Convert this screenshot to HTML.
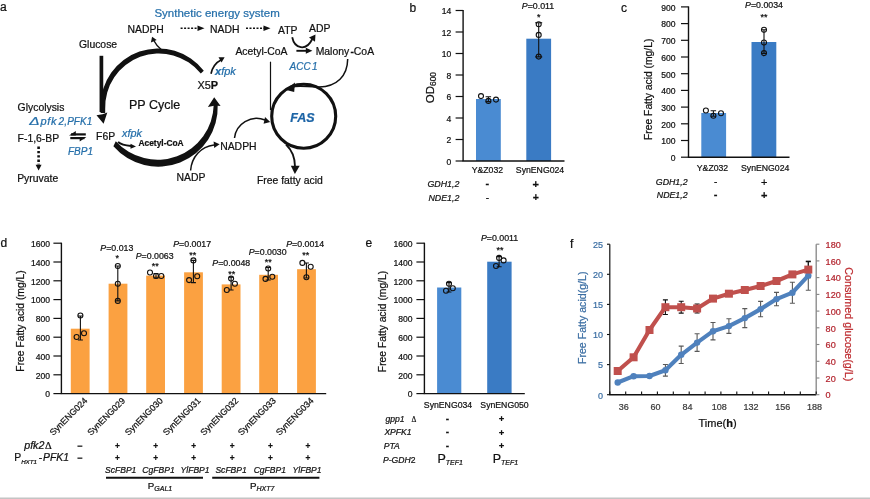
<!DOCTYPE html>
<html lang="en"><head><meta charset="utf-8"><title>Figure</title>
<style>
html,body{margin:0;padding:0;background:#fff;}
body{width:870px;height:499px;overflow:hidden;}
svg{display:block;will-change:transform;font-family:"Liberation Sans",Arial,sans-serif;}
</style></head><body>
<svg width="870" height="499" viewBox="0 0 870 499">
<rect width="870" height="499" fill="#fff"/>
<defs>
<marker id="ah" viewBox="0 0 10 10" refX="7" refY="5" markerWidth="5" markerHeight="5" orient="auto-start-reverse"><path d="M0 0L10 5L0 10z" fill="#111"/></marker>
</defs>

<text x="0" y="11.3" font-size="12" fill="#111" stroke="#111" stroke-width="0.22">a</text>
<text x="409.5" y="11.5" font-size="12" fill="#111" stroke="#111" stroke-width="0.22">b</text>
<text x="621" y="11.5" font-size="12" fill="#111" stroke="#111" stroke-width="0.22">c</text>
<text x="0.5" y="246.5" font-size="12" fill="#111" stroke="#111" stroke-width="0.22">d</text>
<text x="365.5" y="246.5" font-size="12" fill="#111" stroke="#111" stroke-width="0.22">e</text>
<text x="570" y="248" font-size="12" fill="#111" stroke="#111" stroke-width="0.22">f</text>
<g id="pa">
<text x="217.1" y="16.8" font-size="11.5" text-anchor="middle" fill="#256faa" stroke="#256faa" stroke-width="0.22">Synthetic energy system</text>
<text x="127.5" y="33" font-size="10.4" fill="#111" stroke="#111" stroke-width="0.22">NADPH</text>
<text x="210" y="33" font-size="10.4" fill="#111" stroke="#111" stroke-width="0.22">NADH</text>
<text x="278" y="33.7" font-size="10.4" fill="#111" stroke="#111" stroke-width="0.22">ATP</text>
<text x="309" y="32.2" font-size="10.4" fill="#111" stroke="#111" stroke-width="0.22">ADP</text>
<text x="79" y="48" font-size="10.4" fill="#111" stroke="#111" stroke-width="0.22">Glucose</text>
<text x="235.4" y="54.5" font-size="10.4" fill="#111" stroke="#111" stroke-width="0.22">Acetyl-CoA</text>
<text x="315.7" y="54.5" font-size="10.4" fill="#111" stroke="#111" stroke-width="0.22">Malony<tspan dx="1.2" font-weight="bold">-</tspan>CoA</text>
<text x="289.6" y="69.6" font-size="10" font-style="italic" fill="#256faa" stroke="#256faa" stroke-width="0.22">ACC<tspan dx="1.2">1</tspan></text>
<text x="215" y="74.6" font-size="11" font-style="italic" fill="#256faa" stroke="#256faa" stroke-width="0.22"><tspan font-weight="bold">x</tspan>fpk</text>
<text x="197.4" y="89.4" font-size="10.9" fill="#111" stroke="#111" stroke-width="0.22">X5<tspan font-weight="bold">P</tspan></text>
<text x="129" y="109" font-size="12.5" fill="#111" stroke="#111" stroke-width="0.22">PP Cycle</text>
<text x="17.6" y="111" font-size="10.4" fill="#111" stroke="#111" stroke-width="0.22">Glycolysis</text>
<text transform="translate(29.3 124.5) scale(1.5 1)" font-size="10.3" font-style="italic" fill="#256faa" stroke="#256faa" stroke-width="0.2">&#916;</text>
<text x="40.4" y="124.5" font-size="11" font-style="italic" fill="#256faa" stroke="#256faa" stroke-width="0.22"><tspan letter-spacing="0.7">pfk</tspan><tspan x="58.6" font-size="10">2,</tspan><tspan x="67.2" font-size="10">PFK1</tspan></text>
<text x="17.6" y="142.3" font-size="10.4" fill="#111" stroke="#111" stroke-width="0.22">F-1,6-BP</text>
<text x="96.1" y="140.2" font-size="10.4" fill="#111" stroke="#111" stroke-width="0.22">F6P</text>
<text x="122" y="136.8" font-size="10.8" font-style="italic" fill="#256faa" stroke="#256faa" stroke-width="0.22">xfpk</text>
<text x="138.5" y="145.8" font-size="8.4" font-weight="bold" fill="#111" stroke="#111" stroke-width="0.22">Acetyl-CoA</text>
<text x="68" y="154.7" font-size="10" font-style="italic" fill="#256faa" stroke="#256faa" stroke-width="0.22">FBP1</text>
<text x="17.2" y="181.8" font-size="10.4" fill="#111" stroke="#111" stroke-width="0.22">Pyruvate</text>
<text x="176.6" y="181" font-size="10.4" fill="#111" stroke="#111" stroke-width="0.22">NADP</text>
<text x="220.2" y="150" font-size="10.4" fill="#111" stroke="#111" stroke-width="0.22">NADPH</text>
<text x="256.9" y="184.2" font-size="10.4" fill="#111" stroke="#111" stroke-width="0.22">Free fatty acid</text>
<path d="M180.6 28.3H198" stroke="#111" stroke-width="1.5" stroke-dasharray="2 1.5" fill="none"/><path d="M197.5 25.5L204.5 28.3L197.5 31.1z" fill="#111"/>
<path d="M246 28.3H264" stroke="#111" stroke-width="1.5" stroke-dasharray="2 1.5" fill="none"/><path d="M263.5 25.5L270.5 28.3L263.5 31.1z" fill="#111"/>
<path d="M38.6 146.6V164.4" stroke="#111" stroke-width="2.6" stroke-dasharray="2.4 1.9" fill="none"/><path d="M35.6 164.8L38.6 170.6L41.6 164.8z" fill="#111"/>
<path d="M101.4 55.8V112" stroke="#111" stroke-width="3.7" fill="none"/>
<path d="M203.8 70.8 A57.6 57.6 0 0 0 100.6 106.4 L100.6 113 L105.2 113 L105.2 109 A53.7 53.7 0 0 1 200.8 73.6z" fill="#111"/>
<path d="M96.5 115.2L103.6 123.8L107.3 112.6L102.5 114.2z" fill="#111"/>
<path d="M113.4 146.3 A59.5 59.5 0 0 0 217.7 105 L213.7 105 A56.2 56.2 0 0 1 115.8 141.2z" fill="#111"/>
<path d="M207.9 107L214.2 97.2L220.6 106L215.4 105.4z" fill="#111"/>
<path d="M162 50.2 C158.5 47.5 155.5 44 153.8 40.5" stroke="#111" stroke-width="1.4" fill="none"/><path d="M150.9 42.4L152.1 36.8L156.7 40z" fill="#111"/>
<path d="M211 73.7 C212.5 67 216 62.5 221 60" stroke="#111" stroke-width="1.7" fill="none"/><path d="M218.5 57.2L224.6 57.3L221.6 62.5z" fill="#111"/>
<path d="M118 142 C121 144.5 126 145.5 131 146" stroke="#111" stroke-width="2" fill="none"/><path d="M130.5 143.8L136 146.5L130.5 148.8z" fill="#111"/>
<path d="M71 134.4H85.8" stroke="#111" stroke-width="2.2"/><path d="M69 135.5L75.8 130.9V135.5z" fill="#111"/><path d="M70.3 138.1H84.5" stroke="#111" stroke-width="2.2"/><path d="M86.4 137L79.7 141.6V137z" fill="#111"/>
<path d="M190.6 170.5 C191.5 157 201 146.5 214 145" stroke="#111" stroke-width="1.5" fill="none"/><path d="M213.6 141.6L219.6 144.2L214.2 148z" fill="#111"/>
<path d="M292.2 37.3 C294.5 48.5 306 52 312.3 39" stroke="#111" stroke-width="1.8" fill="none"/><path d="M309 37.6L315.5 34.4L315 41.8z" fill="#111"/>
<path d="M296.4 50.8H307" stroke="#111" stroke-width="1.9"/><path d="M305.8 47.8L312.4 50.8L305.8 53.8z" fill="#111"/>
<path d="M270.5 61.7V110" stroke="#111" stroke-width="1.2"/>
<circle cx="303.7" cy="116.3" r="32" fill="none" stroke="#111" stroke-width="3.1"/>
<text x="290.2" y="121.7" font-size="12.5" font-style="italic" font-weight="bold" fill="#1c64a6" stroke="#1c64a6" stroke-width="0.22">FAS</text>
<path d="M347.7 59 C347.5 76 337 86.5 319 87 C308 87.3 299 85 291 87.3" stroke="#111" stroke-width="1.5" fill="none"/><path d="M295 82.6L285.3 89.8L294.2 92z" fill="#111"/>
<path d="M234.5 138 C236 124 251 114.5 265 120" stroke="#111" stroke-width="1.5" fill="none"/><path d="M265 117L270.2 121.9L263.6 123.8z" fill="#111"/>
<path d="M286 144.5 C291.8 150 294.9 157 295 166.5" stroke="#111" stroke-width="1.8" fill="none"/><path d="M290.8 165.7L294.9 174L299.7 165.7z" fill="#111"/>
</g>
<g id="pb">
<rect x="476" y="99" width="24.8" height="62.0" fill="#4a8bd2"/>
<rect x="526.3" y="38.7" width="24.8" height="122.3" fill="#3a7bc4"/>
<path d="M463.1 10.0V161.0" stroke="#111" stroke-width="1.4" fill="none"/>
<path d="M455.6 161.0H463.1" stroke="#111" stroke-width="1.2"/>
<text x="451.3" y="164.8" font-size="8.55" text-anchor="end" fill="#111" stroke="#111" stroke-width="0.22">0</text>
<path d="M455.6 139.5H463.1" stroke="#111" stroke-width="1.2"/>
<text x="451.3" y="143.3" font-size="8.55" text-anchor="end" fill="#111" stroke="#111" stroke-width="0.22">2</text>
<path d="M455.6 118.0H463.1" stroke="#111" stroke-width="1.2"/>
<text x="451.3" y="121.8" font-size="8.55" text-anchor="end" fill="#111" stroke="#111" stroke-width="0.22">4</text>
<path d="M455.6 96.5H463.1" stroke="#111" stroke-width="1.2"/>
<text x="451.3" y="100.3" font-size="8.55" text-anchor="end" fill="#111" stroke="#111" stroke-width="0.22">6</text>
<path d="M455.6 75.0H463.1" stroke="#111" stroke-width="1.2"/>
<text x="451.3" y="78.8" font-size="8.55" text-anchor="end" fill="#111" stroke="#111" stroke-width="0.22">8</text>
<path d="M455.6 53.5H463.1" stroke="#111" stroke-width="1.2"/>
<text x="451.3" y="57.3" font-size="8.55" text-anchor="end" fill="#111" stroke="#111" stroke-width="0.22">10</text>
<path d="M455.6 32.0H463.1" stroke="#111" stroke-width="1.2"/>
<text x="451.3" y="35.8" font-size="8.55" text-anchor="end" fill="#111" stroke="#111" stroke-width="0.22">12</text>
<path d="M455.6 10.5H463.1" stroke="#111" stroke-width="1.2"/>
<text x="451.3" y="14.3" font-size="8.55" text-anchor="end" fill="#111" stroke="#111" stroke-width="0.22">14</text>
<path d="M462.5 161.0H564.5" stroke="#111" stroke-width="1.4"/>
<path d="M488.4 96.8V101.6M485.6 96.8h5.5M485.6 101.6h5.5" stroke="#111" stroke-width="1.1" fill="none"/>
<circle cx="481.0" cy="96.1" r="2.5" fill="none" stroke="#111" stroke-width="1.1"/>
<circle cx="488.4" cy="100.9" r="2.5" fill="none" stroke="#111" stroke-width="1.1"/>
<circle cx="496.0" cy="99.6" r="2.5" fill="none" stroke="#111" stroke-width="1.1"/>
<path d="M538.7 22.8V56.9M535.2 22.8h7M535.2 56.9h7" stroke="#111" stroke-width="1.1" fill="none"/>
<circle cx="538.7" cy="24.3" r="2.5" fill="none" stroke="#111" stroke-width="1.1"/>
<circle cx="538.7" cy="34.9" r="2.5" fill="none" stroke="#111" stroke-width="1.1"/>
<circle cx="538.7" cy="56.6" r="2.5" fill="none" stroke="#111" stroke-width="1.1"/>
<text x="538" y="8.6" font-size="8.8" text-anchor="middle" fill="#111" stroke="#111" stroke-width="0.22"><tspan font-style="italic">P</tspan>=0.011</text>
<text x="538.7" y="19.9" font-size="9" text-anchor="middle" fill="#111" stroke="#111" stroke-width="0.22">*</text>
<text x="487.4" y="173" font-size="8.7" text-anchor="middle" fill="#111" stroke="#111" stroke-width="0.22">Y&amp;Z032</text>
<text x="540" y="173" font-size="8.7" text-anchor="middle" fill="#111" stroke="#111" stroke-width="0.22">SynENG024</text>
<text x="459.3" y="186.6" font-size="8.8" text-anchor="end" font-style="italic" fill="#111" stroke="#111" stroke-width="0.22">GDH1,2</text>
<text x="459.3" y="200.6" font-size="8.8" text-anchor="end" font-style="italic" fill="#111" stroke="#111" stroke-width="0.22">NDE1,2</text>
<text x="487.4" y="186.8" font-size="11" text-anchor="middle" font-weight="bold" fill="#111" stroke="#111" stroke-width="0.22">-</text>
<text x="487.4" y="200.8" font-size="10" text-anchor="middle" fill="#111" stroke="#111" stroke-width="0.22">-</text>
<text x="535.7" y="187.5" font-size="11" text-anchor="middle" font-weight="bold" fill="#111" stroke="#111" stroke-width="0.22">+</text>
<text x="535.7" y="201.4" font-size="10.5" text-anchor="middle" font-weight="bold" fill="#111" stroke="#111" stroke-width="0.22">+</text>
<text x="433.6" y="87.6" font-size="11.5" text-anchor="middle" fill="#111" stroke="#111" stroke-width="0.22" transform="rotate(-90 433.6 87.6)">OD<tspan font-size="8.4" dy="2.6">600</tspan></text>
</g>
<g id="pc">
<rect x="701.3" y="113" width="24.8" height="44.2" fill="#4a8bd2"/>
<rect x="751.5" y="42" width="24.8" height="115.2" fill="#3a7bc4"/>
<path d="M688.5 6.400000000000006V157.2" stroke="#111" stroke-width="1.4" fill="none"/>
<path d="M681.0 157.2H688.5" stroke="#111" stroke-width="1.2"/>
<text x="675.6" y="161.0" font-size="8.55" text-anchor="end" fill="#111" stroke="#111" stroke-width="0.22">0</text>
<path d="M681.0 140.5H688.5" stroke="#111" stroke-width="1.2"/>
<text x="675.6" y="144.3" font-size="8.55" text-anchor="end" fill="#111" stroke="#111" stroke-width="0.22">100</text>
<path d="M681.0 123.8H688.5" stroke="#111" stroke-width="1.2"/>
<text x="675.6" y="127.6" font-size="8.55" text-anchor="end" fill="#111" stroke="#111" stroke-width="0.22">200</text>
<path d="M681.0 107.1H688.5" stroke="#111" stroke-width="1.2"/>
<text x="675.6" y="110.9" font-size="8.55" text-anchor="end" fill="#111" stroke="#111" stroke-width="0.22">300</text>
<path d="M681.0 90.4H688.5" stroke="#111" stroke-width="1.2"/>
<text x="675.6" y="94.2" font-size="8.55" text-anchor="end" fill="#111" stroke="#111" stroke-width="0.22">400</text>
<path d="M681.0 73.7H688.5" stroke="#111" stroke-width="1.2"/>
<text x="675.6" y="77.5" font-size="8.55" text-anchor="end" fill="#111" stroke="#111" stroke-width="0.22">500</text>
<path d="M681.0 57.0H688.5" stroke="#111" stroke-width="1.2"/>
<text x="675.6" y="60.8" font-size="8.55" text-anchor="end" fill="#111" stroke="#111" stroke-width="0.22">600</text>
<path d="M681.0 40.3H688.5" stroke="#111" stroke-width="1.2"/>
<text x="675.6" y="44.1" font-size="8.55" text-anchor="end" fill="#111" stroke="#111" stroke-width="0.22">700</text>
<path d="M681.0 23.6H688.5" stroke="#111" stroke-width="1.2"/>
<text x="675.6" y="27.4" font-size="8.55" text-anchor="end" fill="#111" stroke="#111" stroke-width="0.22">800</text>
<path d="M681.0 6.9H688.5" stroke="#111" stroke-width="1.2"/>
<text x="675.6" y="10.7" font-size="8.55" text-anchor="end" fill="#111" stroke="#111" stroke-width="0.22">900</text>
<path d="M687.9 157.2H789.5" stroke="#111" stroke-width="1.4"/>
<path d="M713.4 110.7V116.3M710.6 110.7h5.5M710.6 116.3h5.5" stroke="#111" stroke-width="1.1" fill="none"/>
<circle cx="705.9" cy="110.5" r="2.5" fill="none" stroke="#111" stroke-width="1.1"/>
<circle cx="713.4" cy="115.8" r="2.5" fill="none" stroke="#111" stroke-width="1.1"/>
<circle cx="721.0" cy="113.3" r="2.5" fill="none" stroke="#111" stroke-width="1.1"/>
<path d="M764.0 29.8V53.4M761.0 29.8h6M761.0 53.4h6" stroke="#111" stroke-width="1.1" fill="none"/>
<circle cx="764.0" cy="29.8" r="2.5" fill="none" stroke="#111" stroke-width="1.1"/>
<circle cx="764.0" cy="42.5" r="2.5" fill="none" stroke="#111" stroke-width="1.1"/>
<circle cx="764.0" cy="53.1" r="2.5" fill="none" stroke="#111" stroke-width="1.1"/>
<text x="764" y="8.2" font-size="8.8" text-anchor="middle" fill="#111" stroke="#111" stroke-width="0.22"><tspan font-style="italic">P</tspan>=0.0034</text>
<text x="764" y="19.8" font-size="9" text-anchor="middle" fill="#111" stroke="#111" stroke-width="0.22">**</text>
<text x="712.5" y="171.3" font-size="8.7" text-anchor="middle" fill="#111" stroke="#111" stroke-width="0.22">Y&amp;Z032</text>
<text x="765.2" y="171.3" font-size="8.7" text-anchor="middle" fill="#111" stroke="#111" stroke-width="0.22">SynENG024</text>
<text x="687.6" y="185" font-size="8.8" text-anchor="end" font-style="italic" fill="#111" stroke="#111" stroke-width="0.22">GDH1,2</text>
<text x="687.6" y="198" font-size="8.8" text-anchor="end" font-style="italic" fill="#111" stroke="#111" stroke-width="0.22">NDE1,2</text>
<text x="715.7" y="184.8" font-size="10" text-anchor="middle" fill="#111" stroke="#111" stroke-width="0.22">-</text>
<text x="715.7" y="197.8" font-size="11" text-anchor="middle" font-weight="bold" fill="#111" stroke="#111" stroke-width="0.22">-</text>
<text x="764.2" y="185.5" font-size="11" text-anchor="middle" fill="#111" stroke="#111" stroke-width="0.22">+</text>
<text x="764.2" y="198.5" font-size="11" text-anchor="middle" font-weight="bold" fill="#111" stroke="#111" stroke-width="0.22">+</text>
<text x="652.3" y="89.3" font-size="10.3" text-anchor="middle" fill="#111" stroke="#111" stroke-width="0.22" transform="rotate(-90 652.3 89.3)">Free Fatty acid (mg/L)</text>
</g>
<g id="pd">
<rect x="70.8" y="328.7" width="18.8" height="64.9" fill="#fba141"/>
<rect x="108.6" y="283.7" width="18.8" height="109.9" fill="#fba141"/>
<rect x="146.2" y="275.6" width="18.8" height="118.0" fill="#fba141"/>
<rect x="184.1" y="272.3" width="18.8" height="121.3" fill="#fba141"/>
<rect x="221.7" y="284.4" width="18.8" height="109.2" fill="#fba141"/>
<rect x="259.2" y="274.8" width="18.8" height="118.8" fill="#fba141"/>
<rect x="297.1" y="269.2" width="18.8" height="124.4" fill="#fba141"/>
<path d="M61.4 242.70000000000002V393.6" stroke="#111" stroke-width="1.4" fill="none"/>
<path d="M53.4 393.6H61.4" stroke="#111" stroke-width="1.2"/>
<text x="50" y="397.4" font-size="8.55" text-anchor="end" fill="#111" stroke="#111" stroke-width="0.22">0</text>
<path d="M53.4 374.8H61.4" stroke="#111" stroke-width="1.2"/>
<text x="50" y="378.6" font-size="8.55" text-anchor="end" fill="#111" stroke="#111" stroke-width="0.22">200</text>
<path d="M53.4 356.0H61.4" stroke="#111" stroke-width="1.2"/>
<text x="50" y="359.8" font-size="8.55" text-anchor="end" fill="#111" stroke="#111" stroke-width="0.22">400</text>
<path d="M53.4 337.2H61.4" stroke="#111" stroke-width="1.2"/>
<text x="50" y="341.0" font-size="8.55" text-anchor="end" fill="#111" stroke="#111" stroke-width="0.22">600</text>
<path d="M53.4 318.4H61.4" stroke="#111" stroke-width="1.2"/>
<text x="50" y="322.2" font-size="8.55" text-anchor="end" fill="#111" stroke="#111" stroke-width="0.22">800</text>
<path d="M53.4 299.6H61.4" stroke="#111" stroke-width="1.2"/>
<text x="50" y="303.4" font-size="8.55" text-anchor="end" fill="#111" stroke="#111" stroke-width="0.22">1000</text>
<path d="M53.4 280.8H61.4" stroke="#111" stroke-width="1.2"/>
<text x="50" y="284.6" font-size="8.55" text-anchor="end" fill="#111" stroke="#111" stroke-width="0.22">1200</text>
<path d="M53.4 262.0H61.4" stroke="#111" stroke-width="1.2"/>
<text x="50" y="265.8" font-size="8.55" text-anchor="end" fill="#111" stroke="#111" stroke-width="0.22">1400</text>
<path d="M53.4 243.2H61.4" stroke="#111" stroke-width="1.2"/>
<text x="50" y="247.0" font-size="8.55" text-anchor="end" fill="#111" stroke="#111" stroke-width="0.22">1600</text>
<path d="M60.8 393.6H326.2" stroke="#111" stroke-width="1.4"/>
<path d="M80.4 316.0V340.0M77.9 316.0h5M77.9 340.0h5" stroke="#111" stroke-width="1.1" fill="none"/>
<circle cx="80.4" cy="315.5" r="2.5" fill="none" stroke="#111" stroke-width="1.1"/>
<circle cx="76.6" cy="337.0" r="2.5" fill="none" stroke="#111" stroke-width="1.1"/>
<circle cx="84.0" cy="333.2" r="2.5" fill="none" stroke="#111" stroke-width="1.1"/>
<path d="M117.8 266.0V300.9M115.3 266.0h5M115.3 300.9h5" stroke="#111" stroke-width="1.1" fill="none"/>
<circle cx="117.8" cy="266.0" r="2.5" fill="none" stroke="#111" stroke-width="1.1"/>
<circle cx="117.8" cy="283.7" r="2.5" fill="none" stroke="#111" stroke-width="1.1"/>
<circle cx="117.8" cy="300.9" r="2.5" fill="none" stroke="#111" stroke-width="1.1"/>
<path d="M156.0 273.5V278.0M153.5 273.5h5M153.5 278.0h5" stroke="#111" stroke-width="1.1" fill="none"/>
<circle cx="150.0" cy="272.5" r="2.5" fill="none" stroke="#111" stroke-width="1.1"/>
<circle cx="156.0" cy="276.0" r="2.5" fill="none" stroke="#111" stroke-width="1.1"/>
<circle cx="161.3" cy="276.0" r="2.5" fill="none" stroke="#111" stroke-width="1.1"/>
<path d="M193.4 260.4V282.6M190.9 260.4h5M190.9 282.6h5" stroke="#111" stroke-width="1.1" fill="none"/>
<circle cx="193.4" cy="260.4" r="2.5" fill="none" stroke="#111" stroke-width="1.1"/>
<circle cx="189.1" cy="280.1" r="2.5" fill="none" stroke="#111" stroke-width="1.1"/>
<circle cx="197.2" cy="276.3" r="2.5" fill="none" stroke="#111" stroke-width="1.1"/>
<path d="M231.1 277.3V290.0M228.6 277.3h5M228.6 290.0h5" stroke="#111" stroke-width="1.1" fill="none"/>
<circle cx="231.1" cy="278.6" r="2.5" fill="none" stroke="#111" stroke-width="1.1"/>
<circle cx="226.8" cy="290.0" r="2.5" fill="none" stroke="#111" stroke-width="1.1"/>
<circle cx="234.9" cy="283.7" r="2.5" fill="none" stroke="#111" stroke-width="1.1"/>
<path d="M268.2 267.5V280.0M265.7 267.5h5M265.7 280.0h5" stroke="#111" stroke-width="1.1" fill="none"/>
<circle cx="268.2" cy="268.5" r="2.5" fill="none" stroke="#111" stroke-width="1.1"/>
<circle cx="265.5" cy="278.9" r="2.5" fill="none" stroke="#111" stroke-width="1.1"/>
<circle cx="272.3" cy="276.8" r="2.5" fill="none" stroke="#111" stroke-width="1.1"/>
<path d="M306.4 263.0V278.0M303.9 263.0h5M303.9 278.0h5" stroke="#111" stroke-width="1.1" fill="none"/>
<circle cx="302.4" cy="262.9" r="2.5" fill="none" stroke="#111" stroke-width="1.1"/>
<circle cx="310.7" cy="266.7" r="2.5" fill="none" stroke="#111" stroke-width="1.1"/>
<circle cx="306.4" cy="277.3" r="2.5" fill="none" stroke="#111" stroke-width="1.1"/>
<text x="116.8" y="250.7" font-size="8.8" text-anchor="middle" fill="#111" stroke="#111" stroke-width="0.22"><tspan font-style="italic">P</tspan>=0.013</text>
<text x="117.3" y="260.8" font-size="9" text-anchor="middle" fill="#111" stroke="#111" stroke-width="0.22">*</text>
<text x="154.7" y="259" font-size="8.8" text-anchor="middle" fill="#111" stroke="#111" stroke-width="0.22"><tspan font-style="italic">P</tspan>=0.0063</text>
<text x="155.2" y="269.1" font-size="9" text-anchor="middle" fill="#111" stroke="#111" stroke-width="0.22">**</text>
<text x="192.2" y="247.4" font-size="8.8" text-anchor="middle" fill="#111" stroke="#111" stroke-width="0.22"><tspan font-style="italic">P</tspan>=0.0017</text>
<text x="192.7" y="257.5" font-size="9" text-anchor="middle" fill="#111" stroke="#111" stroke-width="0.22">**</text>
<text x="231.3" y="266.4" font-size="8.8" text-anchor="middle" fill="#111" stroke="#111" stroke-width="0.22"><tspan font-style="italic">P</tspan>=0.0048</text>
<text x="231.8" y="276.5" font-size="9" text-anchor="middle" fill="#111" stroke="#111" stroke-width="0.22">**</text>
<text x="267.7" y="255.3" font-size="8.8" text-anchor="middle" fill="#111" stroke="#111" stroke-width="0.22"><tspan font-style="italic">P</tspan>=0.0030</text>
<text x="268.2" y="265.40000000000003" font-size="9" text-anchor="middle" fill="#111" stroke="#111" stroke-width="0.22">**</text>
<text x="305.2" y="247.4" font-size="8.8" text-anchor="middle" fill="#111" stroke="#111" stroke-width="0.22"><tspan font-style="italic">P</tspan>=0.0014</text>
<text x="305.7" y="257.5" font-size="9" text-anchor="middle" fill="#111" stroke="#111" stroke-width="0.22">**</text>
<text x="88.0" y="401.2" font-size="8.85" text-anchor="end" fill="#111" stroke="#111" stroke-width="0.22" transform="rotate(-45 88.0 401.2)">SynENG024</text>
<text x="125.8" y="401.2" font-size="8.85" text-anchor="end" fill="#111" stroke="#111" stroke-width="0.22" transform="rotate(-45 125.8 401.2)">SynENG029</text>
<text x="163.4" y="401.2" font-size="8.85" text-anchor="end" fill="#111" stroke="#111" stroke-width="0.22" transform="rotate(-45 163.4 401.2)">SynENG030</text>
<text x="201.3" y="401.2" font-size="8.85" text-anchor="end" fill="#111" stroke="#111" stroke-width="0.22" transform="rotate(-45 201.3 401.2)">SynENG031</text>
<text x="238.9" y="401.2" font-size="8.85" text-anchor="end" fill="#111" stroke="#111" stroke-width="0.22" transform="rotate(-45 238.9 401.2)">SynENG032</text>
<text x="276.4" y="401.2" font-size="8.85" text-anchor="end" fill="#111" stroke="#111" stroke-width="0.22" transform="rotate(-45 276.4 401.2)">SynENG033</text>
<text x="314.3" y="401.2" font-size="8.85" text-anchor="end" fill="#111" stroke="#111" stroke-width="0.22" transform="rotate(-45 314.3 401.2)">SynENG034</text>
<text x="51.7" y="448.6" font-size="10.7" text-anchor="end" font-style="italic" fill="#111" stroke="#111" stroke-width="0.22">pfk2<tspan font-style="normal" dx="0.6" font-size="10.4" font-family="Liberation Serif,serif">&#916;</tspan></text>
<text x="14.2" y="461.4" font-size="10.4" fill="#111" stroke="#111" stroke-width="0.22">P<tspan font-size="6.2" font-style="italic" dy="2.3">HXT1</tspan><tspan dy="-2.3" dx="1.8">-</tspan><tspan font-style="italic" dx="0.8">PFK1</tspan></text>
<text x="79.9" y="448.7" font-size="9" text-anchor="middle" font-weight="bold" fill="#111" stroke="#111" stroke-width="0.22">&#8722;</text>
<text x="117.4" y="449" font-size="8.3" text-anchor="middle" font-weight="bold" fill="#111" stroke="#111" stroke-width="0.22">+</text>
<text x="155.7" y="449" font-size="8.3" text-anchor="middle" font-weight="bold" fill="#111" stroke="#111" stroke-width="0.22">+</text>
<text x="193.8" y="449" font-size="8.3" text-anchor="middle" font-weight="bold" fill="#111" stroke="#111" stroke-width="0.22">+</text>
<text x="232.1" y="449" font-size="8.3" text-anchor="middle" font-weight="bold" fill="#111" stroke="#111" stroke-width="0.22">+</text>
<text x="270.4" y="449" font-size="8.3" text-anchor="middle" font-weight="bold" fill="#111" stroke="#111" stroke-width="0.22">+</text>
<text x="307.9" y="449" font-size="8.3" text-anchor="middle" font-weight="bold" fill="#111" stroke="#111" stroke-width="0.22">+</text>
<text x="79.9" y="461.0" font-size="9" text-anchor="middle" font-weight="bold" fill="#111" stroke="#111" stroke-width="0.22">&#8722;</text>
<text x="117.4" y="461.3" font-size="8.3" text-anchor="middle" font-weight="bold" fill="#111" stroke="#111" stroke-width="0.22">+</text>
<text x="155.7" y="461.3" font-size="8.3" text-anchor="middle" font-weight="bold" fill="#111" stroke="#111" stroke-width="0.22">+</text>
<text x="193.8" y="461.3" font-size="8.3" text-anchor="middle" font-weight="bold" fill="#111" stroke="#111" stroke-width="0.22">+</text>
<text x="232.1" y="461.3" font-size="8.3" text-anchor="middle" font-weight="bold" fill="#111" stroke="#111" stroke-width="0.22">+</text>
<text x="270.4" y="461.3" font-size="8.3" text-anchor="middle" font-weight="bold" fill="#111" stroke="#111" stroke-width="0.22">+</text>
<text x="307.9" y="461.3" font-size="8.3" text-anchor="middle" font-weight="bold" fill="#111" stroke="#111" stroke-width="0.22">+</text>
<text x="120.7" y="472.8" font-size="8.55" text-anchor="middle" font-style="italic" fill="#111" stroke="#111" stroke-width="0.22">ScFBP1</text>
<text x="158.5" y="472.8" font-size="8.55" text-anchor="middle" font-style="italic" fill="#111" stroke="#111" stroke-width="0.22">CgFBP1</text>
<text x="195.1" y="472.8" font-size="8.55" text-anchor="middle" font-style="italic" fill="#111" stroke="#111" stroke-width="0.22">YlFBP1</text>
<text x="231.1" y="472.8" font-size="8.55" text-anchor="middle" font-style="italic" fill="#111" stroke="#111" stroke-width="0.22">ScFBP1</text>
<text x="269.8" y="472.8" font-size="8.55" text-anchor="middle" font-style="italic" fill="#111" stroke="#111" stroke-width="0.22">CgFBP1</text>
<text x="307.1" y="472.8" font-size="8.55" text-anchor="middle" font-style="italic" fill="#111" stroke="#111" stroke-width="0.22">YlFBP1</text>
<path d="M106 477.7H203M212.2 477.7H319.4" stroke="#111" stroke-width="1.9"/>
<text x="160" y="489.3" font-size="9.8" text-anchor="middle" fill="#111" stroke="#111" stroke-width="0.22">P<tspan font-size="7" font-style="italic" dy="2">GAL1</tspan></text>
<text x="262.2" y="489.3" font-size="9.8" text-anchor="middle" fill="#111" stroke="#111" stroke-width="0.22">P<tspan font-size="7" font-style="italic" dy="2">HXT7</tspan></text>
<text x="23.8" y="321" font-size="10.3" text-anchor="middle" fill="#111" stroke="#111" stroke-width="0.22" transform="rotate(-90 23.8 321)">Free Fatty acid (mg/L)</text>
</g>
<g id="pe">
<rect x="437.1" y="287.5" width="24.2" height="106.1" fill="#4a8bd2"/>
<rect x="487.2" y="261.7" width="24.4" height="131.9" fill="#3a7bc4"/>
<path d="M424.4 242.70000000000002V393.6" stroke="#111" stroke-width="1.4" fill="none"/>
<path d="M416.4 393.6H424.4" stroke="#111" stroke-width="1.2"/>
<text x="412.6" y="397.4" font-size="8.55" text-anchor="end" fill="#111" stroke="#111" stroke-width="0.22">0</text>
<path d="M416.4 374.8H424.4" stroke="#111" stroke-width="1.2"/>
<text x="412.6" y="378.6" font-size="8.55" text-anchor="end" fill="#111" stroke="#111" stroke-width="0.22">200</text>
<path d="M416.4 356.0H424.4" stroke="#111" stroke-width="1.2"/>
<text x="412.6" y="359.8" font-size="8.55" text-anchor="end" fill="#111" stroke="#111" stroke-width="0.22">400</text>
<path d="M416.4 337.2H424.4" stroke="#111" stroke-width="1.2"/>
<text x="412.6" y="341.0" font-size="8.55" text-anchor="end" fill="#111" stroke="#111" stroke-width="0.22">600</text>
<path d="M416.4 318.4H424.4" stroke="#111" stroke-width="1.2"/>
<text x="412.6" y="322.2" font-size="8.55" text-anchor="end" fill="#111" stroke="#111" stroke-width="0.22">800</text>
<path d="M416.4 299.6H424.4" stroke="#111" stroke-width="1.2"/>
<text x="412.6" y="303.4" font-size="8.55" text-anchor="end" fill="#111" stroke="#111" stroke-width="0.22">1000</text>
<path d="M416.4 280.8H424.4" stroke="#111" stroke-width="1.2"/>
<text x="412.6" y="284.6" font-size="8.55" text-anchor="end" fill="#111" stroke="#111" stroke-width="0.22">1200</text>
<path d="M416.4 262.0H424.4" stroke="#111" stroke-width="1.2"/>
<text x="412.6" y="265.8" font-size="8.55" text-anchor="end" fill="#111" stroke="#111" stroke-width="0.22">1400</text>
<path d="M416.4 243.2H424.4" stroke="#111" stroke-width="1.2"/>
<text x="412.6" y="247.0" font-size="8.55" text-anchor="end" fill="#111" stroke="#111" stroke-width="0.22">1600</text>
<path d="M423.79999999999995 393.6H524.8" stroke="#111" stroke-width="1.4"/>
<path d="M449.0 282.6V292.0M446.5 282.6h5M446.5 292.0h5" stroke="#111" stroke-width="1.1" fill="none"/>
<circle cx="449.0" cy="283.7" r="2.5" fill="none" stroke="#111" stroke-width="1.1"/>
<circle cx="446.0" cy="290.7" r="2.5" fill="none" stroke="#111" stroke-width="1.1"/>
<circle cx="452.8" cy="288.2" r="2.5" fill="none" stroke="#111" stroke-width="1.1"/>
<path d="M499.1 256.6V266.7M496.6 256.6h5M496.6 266.7h5" stroke="#111" stroke-width="1.1" fill="none"/>
<circle cx="499.1" cy="257.9" r="2.5" fill="none" stroke="#111" stroke-width="1.1"/>
<circle cx="503.6" cy="260.4" r="2.5" fill="none" stroke="#111" stroke-width="1.1"/>
<circle cx="496.0" cy="266.0" r="2.5" fill="none" stroke="#111" stroke-width="1.1"/>
<text x="499.6" y="240.8" font-size="8.8" text-anchor="middle" fill="#111" stroke="#111" stroke-width="0.22"><tspan font-style="italic">P</tspan>=0.0011</text>
<text x="500" y="252.6" font-size="9" text-anchor="middle" fill="#111" stroke="#111" stroke-width="0.22">**</text>
<text x="448" y="407.5" font-size="8.7" text-anchor="middle" fill="#111" stroke="#111" stroke-width="0.22">SynENG034</text>
<text x="504.5" y="407.5" font-size="8.7" text-anchor="middle" fill="#111" stroke="#111" stroke-width="0.22">SynENG050</text>
<text x="385.4" y="421.5" font-size="8.6" font-style="italic" fill="#111" stroke="#111" stroke-width="0.22">gpp1 <tspan dx="4.5" font-size="7.5" font-style="normal" font-family="Liberation Serif,serif">&#916;</tspan></text>
<text x="384.4" y="435.2" font-size="8.6" font-style="italic" fill="#111" stroke="#111" stroke-width="0.22">XPFK1</text>
<text x="383.7" y="448.8" font-size="8.6" font-style="italic" fill="#111" stroke="#111" stroke-width="0.22">PTA</text>
<text x="383" y="463" font-size="8.6" font-style="italic" fill="#111" stroke="#111" stroke-width="0.22">P-GDH<tspan font-style="normal">2</tspan></text>
<text x="447.3" y="421.5" font-size="10" text-anchor="middle" font-weight="bold" fill="#111" stroke="#111" stroke-width="0.22">-</text>
<text x="501.5" y="422.0" font-size="9.5" text-anchor="middle" font-weight="bold" fill="#111" stroke="#111" stroke-width="0.22">+</text>
<text x="447.3" y="435.2" font-size="10" text-anchor="middle" font-weight="bold" fill="#111" stroke="#111" stroke-width="0.22">-</text>
<text x="501.5" y="435.7" font-size="9.5" text-anchor="middle" font-weight="bold" fill="#111" stroke="#111" stroke-width="0.22">+</text>
<text x="447.3" y="448.8" font-size="10" text-anchor="middle" font-weight="bold" fill="#111" stroke="#111" stroke-width="0.22">-</text>
<text x="501.5" y="449.3" font-size="9.5" text-anchor="middle" font-weight="bold" fill="#111" stroke="#111" stroke-width="0.22">+</text>
<text x="437.5" y="463" font-size="12.5" fill="#111" stroke="#111" stroke-width="0.22">P<tspan font-size="7" font-style="italic" dy="2.3">TEF1</tspan></text>
<text x="492.7" y="463" font-size="12.5" fill="#111" stroke="#111" stroke-width="0.22">P<tspan font-size="7" font-style="italic" dy="2.3">TEF1</tspan></text>
<text x="386.3" y="321.5" font-size="10.3" text-anchor="middle" fill="#111" stroke="#111" stroke-width="0.22" transform="rotate(-90 386.3 321.5)">Free Fatty acid (mg/L)</text>
</g>
<g id="pf">
<path d="M609.8 244.2V394.7" stroke="#111" stroke-width="1.2" fill="none"/>
<path d="M609.3 394.7H816.2" stroke="#111" stroke-width="1.4" fill="none"/>
<path d="M816.2 244.2V394.7" stroke="#858585" stroke-width="1.3" fill="none"/>
<path d="M609.8 394.7v-3.2" stroke="#111" stroke-width="1.1"/>
<path d="M625.7 394.7v-3.2" stroke="#111" stroke-width="1.1"/>
<path d="M641.6 394.7v-3.2" stroke="#111" stroke-width="1.1"/>
<path d="M657.4 394.7v-3.2" stroke="#111" stroke-width="1.1"/>
<path d="M673.3 394.7v-3.2" stroke="#111" stroke-width="1.1"/>
<path d="M689.2 394.7v-3.2" stroke="#111" stroke-width="1.1"/>
<path d="M705.1 394.7v-3.2" stroke="#111" stroke-width="1.1"/>
<path d="M720.9 394.7v-3.2" stroke="#111" stroke-width="1.1"/>
<path d="M736.8 394.7v-3.2" stroke="#111" stroke-width="1.1"/>
<path d="M752.7 394.7v-3.2" stroke="#111" stroke-width="1.1"/>
<path d="M768.6 394.7v-3.2" stroke="#111" stroke-width="1.1"/>
<path d="M784.4 394.7v-3.2" stroke="#111" stroke-width="1.1"/>
<path d="M800.3 394.7v-3.2" stroke="#111" stroke-width="1.1"/>
<path d="M816.2 394.7v-3.2" stroke="#111" stroke-width="1.1"/>
<path d="M607.0 394.7H609.8" stroke="#111" stroke-width="1.1"/>
<text x="603" y="398.5" font-size="9" text-anchor="end" fill="#3b6ea3" stroke="#3b6ea3" stroke-width="0.22">0</text>
<path d="M607.0 364.6H609.8" stroke="#111" stroke-width="1.1"/>
<text x="603" y="368.4" font-size="9" text-anchor="end" fill="#3b6ea3" stroke="#3b6ea3" stroke-width="0.22">5</text>
<path d="M607.0 334.5H609.8" stroke="#111" stroke-width="1.1"/>
<text x="603" y="338.3" font-size="9" text-anchor="end" fill="#3b6ea3" stroke="#3b6ea3" stroke-width="0.22">10</text>
<path d="M607.0 304.4H609.8" stroke="#111" stroke-width="1.1"/>
<text x="603" y="308.2" font-size="9" text-anchor="end" fill="#3b6ea3" stroke="#3b6ea3" stroke-width="0.22">15</text>
<path d="M607.0 274.3H609.8" stroke="#111" stroke-width="1.1"/>
<text x="603" y="278.1" font-size="9" text-anchor="end" fill="#3b6ea3" stroke="#3b6ea3" stroke-width="0.22">20</text>
<path d="M607.0 244.2H609.8" stroke="#111" stroke-width="1.1"/>
<text x="603" y="248.0" font-size="9" text-anchor="end" fill="#3b6ea3" stroke="#3b6ea3" stroke-width="0.22">25</text>
<path d="M816.2 394.7h3.2" stroke="#858585" stroke-width="1.1"/>
<text x="825.6" y="398.4" font-size="9.1" fill="#b3242e" stroke="#b3242e" stroke-width="0.22">0</text>
<path d="M816.2 378.0h3.2" stroke="#858585" stroke-width="1.1"/>
<text x="825.6" y="381.7" font-size="9.1" fill="#b3242e" stroke="#b3242e" stroke-width="0.22">20</text>
<path d="M816.2 361.3h3.2" stroke="#858585" stroke-width="1.1"/>
<text x="825.6" y="365.0" font-size="9.1" fill="#b3242e" stroke="#b3242e" stroke-width="0.22">40</text>
<path d="M816.2 344.5h3.2" stroke="#858585" stroke-width="1.1"/>
<text x="825.6" y="348.2" font-size="9.1" fill="#b3242e" stroke="#b3242e" stroke-width="0.22">60</text>
<path d="M816.2 327.8h3.2" stroke="#858585" stroke-width="1.1"/>
<text x="825.6" y="331.5" font-size="9.1" fill="#b3242e" stroke="#b3242e" stroke-width="0.22">80</text>
<path d="M816.2 311.1h3.2" stroke="#858585" stroke-width="1.1"/>
<text x="825.6" y="314.8" font-size="9.1" fill="#b3242e" stroke="#b3242e" stroke-width="0.22">100</text>
<path d="M816.2 294.4h3.2" stroke="#858585" stroke-width="1.1"/>
<text x="825.6" y="298.1" font-size="9.1" fill="#b3242e" stroke="#b3242e" stroke-width="0.22">120</text>
<path d="M816.2 277.6h3.2" stroke="#858585" stroke-width="1.1"/>
<text x="825.6" y="281.3" font-size="9.1" fill="#b3242e" stroke="#b3242e" stroke-width="0.22">140</text>
<path d="M816.2 260.9h3.2" stroke="#858585" stroke-width="1.1"/>
<text x="825.6" y="264.6" font-size="9.1" fill="#b3242e" stroke="#b3242e" stroke-width="0.22">160</text>
<path d="M816.2 244.2h3.2" stroke="#858585" stroke-width="1.1"/>
<text x="825.6" y="247.9" font-size="9.1" fill="#b3242e" stroke="#b3242e" stroke-width="0.22">180</text>
<text x="623.8" y="409.8" font-size="9" text-anchor="middle" fill="#3a3a3a" stroke="#3a3a3a" stroke-width="0.22">36</text>
<text x="655.6" y="409.8" font-size="9" text-anchor="middle" fill="#3a3a3a" stroke="#3a3a3a" stroke-width="0.22">60</text>
<text x="687.4" y="409.8" font-size="9" text-anchor="middle" fill="#3a3a3a" stroke="#3a3a3a" stroke-width="0.22">84</text>
<text x="719.2" y="409.8" font-size="9" text-anchor="middle" fill="#3a3a3a" stroke="#3a3a3a" stroke-width="0.22">108</text>
<text x="751.0" y="409.8" font-size="9" text-anchor="middle" fill="#3a3a3a" stroke="#3a3a3a" stroke-width="0.22">132</text>
<text x="782.8" y="409.8" font-size="9" text-anchor="middle" fill="#3a3a3a" stroke="#3a3a3a" stroke-width="0.22">156</text>
<text x="814.6" y="409.8" font-size="9" text-anchor="middle" fill="#3a3a3a" stroke="#3a3a3a" stroke-width="0.22">188</text>
<text x="717.6" y="426.5" font-size="11" text-anchor="middle" fill="#111" stroke="#111" stroke-width="0.22">Time(<tspan font-weight="bold">h</tspan>)</text>
<text x="586.3" y="317.8" font-size="10.6" text-anchor="middle" fill="#3b6ea3" stroke="#3b6ea3" stroke-width="0.22" transform="rotate(-90 586.3 317.8)">Free Fatty acid(g/L)</text>
<text x="844.8" y="324.3" font-size="10.75" text-anchor="middle" fill="#be2c30" stroke="#be2c30" stroke-width="0.22" transform="rotate(90 844.8 324.3)">Consumed glucose(g/L)</text>
<path d="M665.4 364.5V376.1M662.9 364.5h5M662.9 376.1h5" stroke="#595959" stroke-width="1.1" fill="none"/>
<path d="M681.2 346.1V363.5M678.7 346.1h5M678.7 363.5h5" stroke="#595959" stroke-width="1.1" fill="none"/>
<path d="M697.1 333.8V351.4M694.6 333.8h5M694.6 351.4h5" stroke="#595959" stroke-width="1.1" fill="none"/>
<path d="M713.0 322.5V339.9M710.5 322.5h5M710.5 339.9h5" stroke="#595959" stroke-width="1.1" fill="none"/>
<path d="M728.9 318.8V333.4M726.4 318.8h5M726.4 333.4h5" stroke="#595959" stroke-width="1.1" fill="none"/>
<path d="M744.8 308.6V327.6M742.3 308.6h5M742.3 327.6h5" stroke="#595959" stroke-width="1.1" fill="none"/>
<path d="M760.6 301.4V316.8M758.1 301.4h5M758.1 316.8h5" stroke="#595959" stroke-width="1.1" fill="none"/>
<path d="M776.5 292.4V305.8M774.0 292.4h5M774.0 305.8h5" stroke="#595959" stroke-width="1.1" fill="none"/>
<path d="M792.4 282.2V303.2M789.9 282.2h5M789.9 303.2h5" stroke="#595959" stroke-width="1.1" fill="none"/>
<path d="M808.3 261.0V290.2M805.8 261.0h5M805.8 290.2h5" stroke="#595959" stroke-width="1.1" fill="none"/>
<path d="M665.4 299.9V314.5M662.9 299.9h5M662.9 314.5h5" stroke="#111" stroke-width="1.1" fill="none"/>
<path d="M681.2 301.3V313.1M678.7 301.3h5M678.7 313.1h5" stroke="#111" stroke-width="1.1" fill="none"/>
<path d="M697.1 304.0V313.0M694.6 304.0h5M694.6 313.0h5" stroke="#111" stroke-width="1.1" fill="none"/>
<path d="M808.3 261.6V277.6M805.8 261.6h5M805.8 277.6h5" stroke="#111" stroke-width="1.1" fill="none"/>
<polyline points="617.7,382.5 633.6,376.2 649.5,376.0 665.4,370.3 681.2,354.8 697.1,342.6 713.0,331.2 728.9,326.1 744.8,318.1 760.6,309.1 776.5,299.1 792.4,292.7 808.3,275.6" fill="none" stroke="#4f81bd" stroke-width="4.1" stroke-linejoin="round" stroke-linecap="round"/>
<circle cx="617.7" cy="382.5" r="3.2" fill="#4f81bd"/>
<circle cx="633.6" cy="376.2" r="3.2" fill="#4f81bd"/>
<circle cx="649.5" cy="376.0" r="3.2" fill="#4f81bd"/>
<circle cx="665.4" cy="370.3" r="3.2" fill="#4f81bd"/>
<circle cx="681.2" cy="354.8" r="3.2" fill="#4f81bd"/>
<circle cx="697.1" cy="342.6" r="3.2" fill="#4f81bd"/>
<circle cx="713.0" cy="331.2" r="3.2" fill="#4f81bd"/>
<circle cx="728.9" cy="326.1" r="3.2" fill="#4f81bd"/>
<circle cx="744.8" cy="318.1" r="3.2" fill="#4f81bd"/>
<circle cx="760.6" cy="309.1" r="3.2" fill="#4f81bd"/>
<circle cx="776.5" cy="299.1" r="3.2" fill="#4f81bd"/>
<circle cx="792.4" cy="292.7" r="3.2" fill="#4f81bd"/>
<circle cx="808.3" cy="275.6" r="3.2" fill="#4f81bd"/>
<polyline points="617.7,371.0 633.6,357.3 649.5,330.0 665.4,307.2 681.2,307.2 697.1,308.5 713.0,298.6 728.9,293.7 744.8,290.0 760.6,286.0 776.5,281.0 792.4,274.4 808.3,269.6" fill="none" stroke="#c0504d" stroke-width="4.1" stroke-linejoin="round" stroke-linecap="round"/>
<rect x="613.7" y="367.0" width="8" height="8" fill="#c0504d"/>
<rect x="629.6" y="353.3" width="8" height="8" fill="#c0504d"/>
<rect x="645.5" y="326.0" width="8" height="8" fill="#c0504d"/>
<rect x="661.4" y="303.2" width="8" height="8" fill="#c0504d"/>
<rect x="677.2" y="303.2" width="8" height="8" fill="#c0504d"/>
<rect x="693.1" y="304.5" width="8" height="8" fill="#c0504d"/>
<rect x="709.0" y="294.6" width="8" height="8" fill="#c0504d"/>
<rect x="724.9" y="289.7" width="8" height="8" fill="#c0504d"/>
<rect x="740.8" y="286.0" width="8" height="8" fill="#c0504d"/>
<rect x="756.6" y="282.0" width="8" height="8" fill="#c0504d"/>
<rect x="772.5" y="277.0" width="8" height="8" fill="#c0504d"/>
<rect x="788.4" y="270.4" width="8" height="8" fill="#c0504d"/>
<rect x="804.3" y="265.6" width="8" height="8" fill="#c0504d"/>
</g>
<rect x="0" y="497.5" width="870" height="1.5" fill="#c4c4c4"/>
</svg></body></html>
